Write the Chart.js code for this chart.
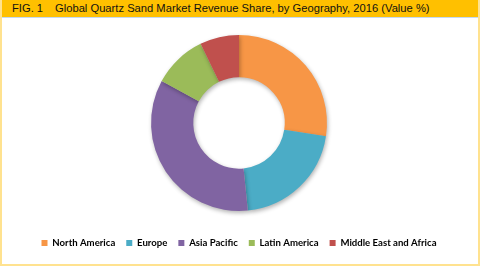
<!DOCTYPE html>
<html>
<head>
<meta charset="utf-8">
<script src="https://cdn.jsdelivr.net/npm/chart.js@4/dist/chart.umd.min.js"></script>
<style>
  html, body { margin: 0; padding: 0; background: #fff; }
  #frame {
    position: relative;
    width: 480px; height: 266px;
    box-sizing: border-box;
    border: 2px solid #FFE28F;
    border-top: none;
    overflow: hidden;
  }
  #head {
    position: absolute; left: -2px; top: 0;
    width: 480px; height: 17px;
    background: #FFC000;
    border-bottom: 1px solid #C5D9F1;
    font: 11.2px "Liberation Sans", Arial, sans-serif;
    color: #111;
    line-height: 17px;
    white-space: nowrap;
  }
  #head .fig { position: absolute; left: 12px; }
  #head .ttl { position: absolute; left: 55px; }
  #wrap { position: absolute; left: 0; top: 18px; width: 476px; height: 246px; }
</style>
</head>
<body>
<div id="frame">
  <div id="head"><span class="fig">FIG. 1</span><span class="ttl">Global Quartz Sand Market Revenue Share, by Geography, 2016 (Value %)</span></div>
  <div id="wrap"><canvas id="chart-geo"></canvas></div>
</div>
<script>
// Revenue share by region, 2016 (%)
const regions = ['North America', 'Europe', 'Asia Pacific', 'Latin America', 'Middle East and Africa'];
const shares = [27.4, 21.0, 34.5, 9.9, 7.2];
const COLORS = ['#F79646', '#4BACC6', '#8064A2', '#9BBB59', '#C0504D'];

// soft drop shadow under the ring
const ringShadow = {
    id: 'ringShadow',
    beforeDatasetsDraw(chart) {
        const c = chart.ctx;
        c.save();
        c.shadowColor = 'rgba(0,0,0,0.30)';
        c.shadowBlur = 4;
        c.shadowOffsetX = 1;
        c.shadowOffsetY = 2;
    },
    afterDatasetsDraw(chart) {
        chart.ctx.restore();
    }
};

new Chart(document.getElementById('chart-geo').getContext('2d'), {
    type: 'doughnut',
    data: {
        labels: regions,
        datasets: [{
            data: shares,
            backgroundColor: COLORS,
            borderWidth: 0,
            hoverOffset: 0
        }]
    },
    options: {
        responsive: true,
        maintainAspectRatio: false,
        animation: false,
        cutout: '52%',
        layout: { padding: { top: 17, bottom: 6.25, left: 1, right: 3 } },
        plugins: {
            legend: {
                position: 'bottom',
                // empty title only used as a spacer above the items
                title: { display: true, text: '', font: { size: 10 }, padding: { top: 0, bottom: 4.25 } },
                labels: {
                    boxWidth: 6,
                    boxHeight: 6,
                    padding: 11,
                    color: '#000',
                    font: { family: 'Lato', size: 9.6, weight: 'bold' }
                }
            },
            tooltip: { enabled: false }
        }
    },
    plugins: [ringShadow]
});
</script>
</body>
</html>
